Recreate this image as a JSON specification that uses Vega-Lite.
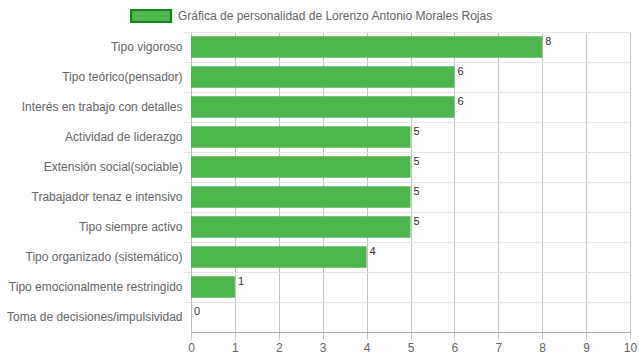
{
  "$schema": "https://vega.github.io/schema/vega-lite/v6.json",
  "width": 439,
  "height": 300,
  "autosize": {"type": "none"},
  "padding": {"left": 191, "top": 32, "right": 9, "bottom": 28},
  "config": {
    "view": {"stroke": null},
    "font": "Liberation Sans",
    "axis": {"labelFont": "Liberation Sans", "labelFontSize": 12, "labelColor": "#666666"}
  },
  "data": {
    "values": [
      {"rasgo": "Tipo vigoroso", "valor": 8, "serie": "Gráfica de personalidad de Lorenzo Antonio Morales Rojas"},
      {"rasgo": "Tipo teórico(pensador)", "valor": 6, "serie": "Gráfica de personalidad de Lorenzo Antonio Morales Rojas"},
      {"rasgo": "Interés en trabajo con detalles", "valor": 6, "serie": "Gráfica de personalidad de Lorenzo Antonio Morales Rojas"},
      {"rasgo": "Actividad de liderazgo", "valor": 5, "serie": "Gráfica de personalidad de Lorenzo Antonio Morales Rojas"},
      {"rasgo": "Extensión social(sociable)", "valor": 5, "serie": "Gráfica de personalidad de Lorenzo Antonio Morales Rojas"},
      {"rasgo": "Trabajador tenaz e intensivo", "valor": 5, "serie": "Gráfica de personalidad de Lorenzo Antonio Morales Rojas"},
      {"rasgo": "Tipo siempre activo", "valor": 5, "serie": "Gráfica de personalidad de Lorenzo Antonio Morales Rojas"},
      {"rasgo": "Tipo organizado (sistemático)", "valor": 4, "serie": "Gráfica de personalidad de Lorenzo Antonio Morales Rojas"},
      {"rasgo": "Tipo emocionalmente restringido", "valor": 1, "serie": "Gráfica de personalidad de Lorenzo Antonio Morales Rojas"},
      {"rasgo": "Toma de decisiones/impulsividad", "valor": 0, "serie": "Gráfica de personalidad de Lorenzo Antonio Morales Rojas"}
    ]
  },
  "encoding": {
    "y": {
      "field": "rasgo",
      "type": "nominal",
      "sort": null,
      "scale": {"padding": 0},
      "axis": {
        "title": null,
        "bandPosition": 0,
        "labelOffset": 0,
        "labelPadding": 1,
        "tickSize": 8,
        "tickColor": "#e6e6e6",
        "grid": true,
        "gridColor": "#e6e6e6",
        "domainColor": "#bbbbbb"
      }
    },
    "x": {
      "field": "valor",
      "type": "quantitative",
      "scale": {"domain": [0, 10], "nice": false},
      "axis": {
        "title": null,
        "values": [0, 1, 2, 3, 4, 5, 6, 7, 8, 9, 10],
        "labelOverlap": false,
        "labelFlush": false,
        "grid": true,
        "gridColor": "#c4c4c4",
        "tickColor": "#c4c4c4",
        "tickSize": 7,
        "domainColor": "#aaaaaa",
        "labelPadding": 3,
        "labelAngle": 0
      }
    }
  },
  "layer": [
    {
      "mark": {"type": "bar", "height": {"band": 0.72}},
      "encoding": {
        "color": {
          "field": "serie",
          "type": "nominal",
          "scale": {"range": ["#4cb54c"]},
          "legend": {
            "title": null,
            "orient": "none",
            "legendX": -61,
            "legendY": -37,
            "symbolType": "M-1,-0.3H1V0.3H-1Z",
            "symbolSize": 1600,
            "symbolStrokeColor": "#15861a",
            "symbolStrokeWidth": 2,
            "symbolOpacity": 1,
            "labelFont": "Liberation Sans",
            "labelFontSize": 12,
            "labelColor": "#666666",
            "labelLimit": 500,
            "labelOffset": 6
          }
        }
      }
    },
    {
      "mark": {"type": "text", "align": "left", "baseline": "alphabetic", "dx": 3, "dy": -2, "font": "Liberation Sans", "fontSize": 11, "color": "#333333"},
      "encoding": {"text": {"field": "valor", "type": "quantitative"}}
    }
  ]
}
